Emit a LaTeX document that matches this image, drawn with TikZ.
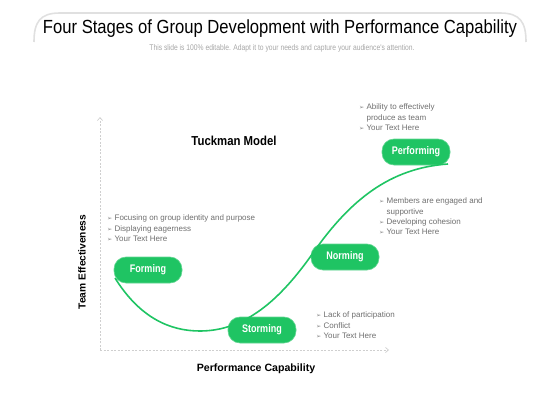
\documentclass[tikz,border=0pt]{standalone}
\usepackage{fontspec}
\setmainfont{Liberation Sans}
\newfontfamily\narrowfont[FakeStretch=0.82]{Liberation Sans}
\newfontfamily\titlefont[FakeStretch=0.875]{Liberation Sans}
\newfontfamily\symfont{DejaVu Sans}
\usetikzlibrary{arrows.meta}
\definecolor{blobgreen}{HTML}{1FC463}
\definecolor{txtgray}{HTML}{6E6E6E}
\definecolor{axisgray}{HTML}{CFCFCF}
\newcommand{\bul}{{\symfont\fontsize{6.2}{6}\selectfont\color{txtgray!80}➢}}
\begin{document}
\begin{tikzpicture}[x=1pt,y=-1pt,
  blob/.style={fill=blobgreen,draw=blobgreen!70,line width=0.6pt,rounded corners=12pt,minimum width=68pt,minimum height=26pt,inner sep=0pt,text=white,font=\narrowfont\bfseries\fontsize{11}{13}\selectfont},
  bullets/.style={anchor=north west,align=left,inner sep=0pt,text=txtgray,font=\fontsize{8}{10.1}\selectfont},
  axis/.style={draw=axisgray,dashed,dash pattern=on 2pt off 1.5pt,line width=0.7pt,-{Straight Barb[length=3pt,width=5pt]}},
  curve/.style={draw=blobgreen,line width=1.6pt}]
\useasboundingbox (0,0) rectangle (560,420);
% banner
\draw[draw=black!12,line width=1.6pt] (34,42) .. controls (34,22) and (40,13) .. (60,13) -- (500,13) .. controls (520,13) and (526,22) .. (526,42);
\node (title) at (280,29) {\titlefont\fontsize{19}{22}\selectfont Four Stages of Group Development with Performance Capability};
\node[text=black!35] (sub) at (282,48) {\narrowfont\fontsize{8.2}{9}\selectfont This slide is 100\% editable. Adapt it to your needs and capture your audience's attention.};
% axes
\coordinate (o) at (100,350);
\coordinate (ytop) at (100,117);
\coordinate (xend) at (389,350);
\draw[axis] (o) -- (ytop);
\draw[axis] (o) -- (xend);
\node[font=\fontsize{10.2}{12}\selectfont\bfseries,rotate=90] (ylab) at (82,262) {Team Effectiveness};
\node[font=\fontsize{10.6}{12}\selectfont\bfseries] (xlab) at (256,369) {Performance Capability};
\node[font=\titlefont\bfseries\fontsize{13}{15}\selectfont] (tm) at (234,141) {Tuckman Model};
% blobs
\node[blob] (forming) at (148,270) {Forming};
\node[blob] (storming) at (262,330) {Storming};
\node[blob] (norming) at (345,257) {Norming};
\node[blob] (performing) at (416,152) {Performing};
% curve
\coordinate (c0) at (115,278);
\coordinate (c1) at (200,331);
\coordinate (c2) at (313,253);
\coordinate (c3) at (448,164);
\draw[curve] (c0) .. controls (140,318) and (170,331) .. (c1)
  .. controls (245,331) and (280,300) .. (c2)
  .. controls (350,200) and (390,168) .. (c3);
% bullet texts
\node[bullets] (tf) at (107,215) {\bul\ Focusing on group identity and purpose\\ \bul\ Displaying eagerness\\ \bul\ Your Text Here};
\node[bullets] (tp) at (359,104) {\bul\ Ability to effectively\\ \phantom{\bul\ }produce as team\\ \bul\ Your Text Here};
\node[bullets] (tn) at (379,198) {\bul\ Members are engaged and\\ \phantom{\bul\ }supportive\\ \bul\ Developing cohesion\\ \bul\ Your Text Here};
\node[bullets] (ts) at (316,312) {\bul\ Lack of participation\\ \bul\ Conflict\\ \bul\ Your Text Here};
\end{tikzpicture}
\end{document}
